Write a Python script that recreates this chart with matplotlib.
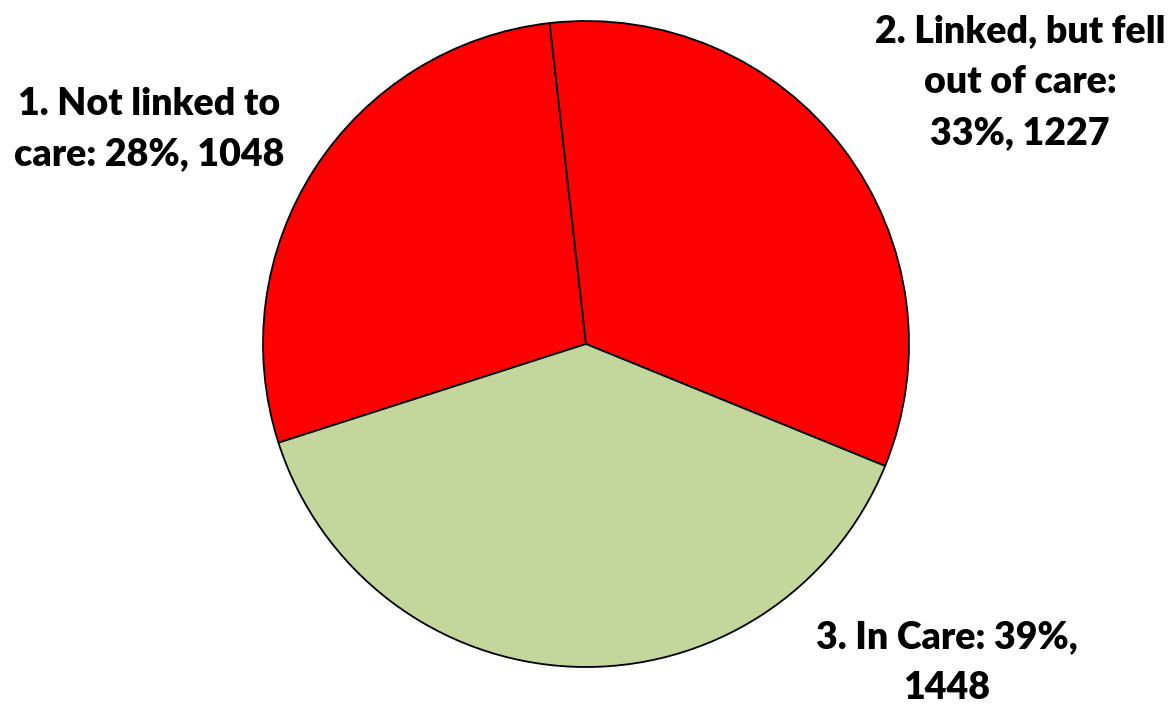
import matplotlib
matplotlib.use("Agg")
import matplotlib.pyplot as plt

# slice data (clockwise from slice 1)
categories = ["1. Not linked to\ncare", "2. Linked, but fell\nout of care", "3. In Care"]
counts = [1048, 1227, 1448]
percents = [28, 33, 39]
colors = ["#FF0000", "#FF0000", "#C3D69B"]

plt.rcParams['font.family'] = ['Lato', 'DejaVu Sans']

fig = plt.figure(figsize=(11.74, 7.07), dpi=100)
ax = fig.add_axes([0, 0, 1, 1])

ax.pie(counts, colors=colors, startangle=197.8, counterclock=False,
       center=(586, 707 - 344), radius=323,
       wedgeprops=dict(edgecolor="black", linewidth=1.3))

ax.set_xlim(0, 1174)
ax.set_ylim(0, 707)
ax.set_aspect('equal')
ax.axis('off')

label_text = [
    "1. Not linked to\ncare: 28%, 1048",
    "2. Linked, but fell\nout of care:\n33%, 1227",
    "3. In Care: 39%,\n1448",
]
label_pos = [(149, 707 - 129), (1020, 707 - 82), (947, 707 - 663)]
for txt, (x, y) in zip(label_text, label_pos):
    ax.text(x, y, txt, ha='center', va='center', fontsize=27, fontweight='heavy',
            linespacing=1.6, color='black')

plt.savefig('out.png', dpi=100)
